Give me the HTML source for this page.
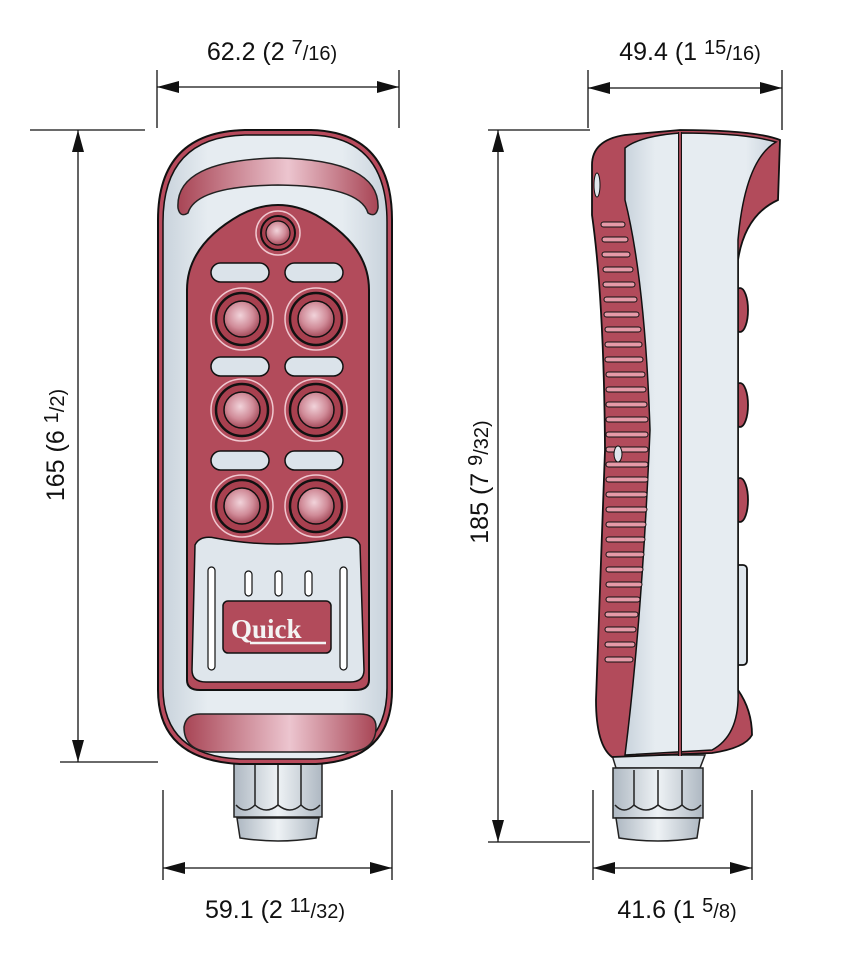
<!DOCTYPE html>
<html><head><meta charset="utf-8"><style>
html,body{margin:0;padding:0;background:#fff;}
svg{display:block;}
.d{font-family:"Liberation Sans Narrow","Liberation Sans",sans-serif;fill:#111;}
</style></head><body>
<svg width="848" height="960" viewBox="0 0 848 960" xmlns="http://www.w3.org/2000/svg">
<defs>
<marker id="b" viewBox="0 0 22 12" refX="22" refY="6" markerWidth="22" markerHeight="12" markerUnits="userSpaceOnUse" orient="auto-start-reverse"><path d="M0,0 L22,6 L0,12 Z" fill="#111"/></marker>
<linearGradient id="body" x1="0" x2="1"><stop offset="0" stop-color="#c9d3dc"/><stop offset=".2" stop-color="#e6ecf1"/><stop offset=".8" stop-color="#e6ecf1"/><stop offset="1" stop-color="#c9d3dc"/></linearGradient>
<linearGradient id="bar" x1="0" x2="1"><stop offset="0" stop-color="#a84555"/><stop offset=".55" stop-color="#ecc5cf"/><stop offset="1" stop-color="#a84555"/></linearGradient>
<radialGradient id="btn" cx=".45" cy=".4" r=".6"><stop offset="0" stop-color="#f1d3da"/><stop offset=".6" stop-color="#d08b98"/><stop offset="1" stop-color="#a44a5a"/></radialGradient>
<linearGradient id="con" x1="0" x2="1"><stop offset="0" stop-color="#aeb8c2"/><stop offset=".5" stop-color="#eef2f5"/><stop offset="1" stop-color="#aeb8c2"/></linearGradient>
<g id="bt"><circle r="31" fill="#b24b5b" stroke="#f0c8d0" stroke-width="1.5"/><circle r="26" fill="#a8404f" stroke="#111" stroke-width="2.5"/><circle r="18" fill="url(#btn)" stroke="#111" stroke-width="1.5"/></g>
</defs>

<g stroke="#111" stroke-width="1.3" fill="none">
<line x1="157" y1="70" x2="157" y2="128"/><line x1="399" y1="70" x2="399" y2="128"/>
<line x1="157" y1="87" x2="399" y2="87" marker-start="url(#b)" marker-end="url(#b)"/>
<line x1="30" y1="130" x2="145" y2="130"/><line x1="60" y1="762" x2="158" y2="762"/>
<line x1="78" y1="130" x2="78" y2="762" marker-start="url(#b)" marker-end="url(#b)"/>
<line x1="163" y1="790" x2="163" y2="880"/><line x1="392" y1="790" x2="392" y2="880"/>
<line x1="163" y1="868" x2="392" y2="868" marker-start="url(#b)" marker-end="url(#b)"/>
<line x1="588" y1="70" x2="588" y2="128"/><line x1="782" y1="70" x2="782" y2="130"/>
<line x1="588" y1="88" x2="782" y2="88" marker-start="url(#b)" marker-end="url(#b)"/>
<line x1="488" y1="130" x2="590" y2="130"/><line x1="488" y1="842" x2="590" y2="842"/>
<line x1="498" y1="130" x2="498" y2="842" marker-start="url(#b)" marker-end="url(#b)"/>
<line x1="593" y1="790" x2="593" y2="880"/><line x1="752" y1="790" x2="752" y2="880"/>
<line x1="593" y1="868" x2="752" y2="868" marker-start="url(#b)" marker-end="url(#b)"/>
</g>
<g font-size="25" class="d">
<text class="d" x="272" y="60" text-anchor="middle">62.2  (2 <tspan font-size="20" dy="-6">7</tspan><tspan font-size="20" dy="6">/16)</tspan></text>
<text class="d" x="690" y="60" text-anchor="middle">49.4  (1 <tspan font-size="20" dy="-6">15</tspan><tspan font-size="20" dy="6">/16)</tspan></text>
<text class="d" x="275" y="918" text-anchor="middle">59.1  (2 <tspan font-size="20" dy="-6">11</tspan><tspan font-size="20" dy="6">/32)</tspan></text>
<text class="d" x="677" y="918" text-anchor="middle">41.6  (1 <tspan font-size="20" dy="-6">5</tspan><tspan font-size="20" dy="6">/8)</tspan></text>
<text class="d" transform="translate(64,445) rotate(-90)" text-anchor="middle">165  (6 <tspan font-size="20" dy="-6">1</tspan><tspan font-size="20" dy="6">/2)</tspan></text>
<text class="d" transform="translate(488,482) rotate(-90)" text-anchor="middle">185  (7 <tspan font-size="20" dy="-6">9</tspan><tspan font-size="20" dy="6">/32)</tspan></text>
</g>

<g stroke="#222" stroke-width="1.5">
<rect x="234" y="762" width="88" height="55" fill="url(#con)"/>
<path d="M237 818 L319 818 L316 838 Q278 844 240 838 Z" fill="url(#con)"/>
<g fill="none"><line x1="255" y1="765" x2="255" y2="805"/><line x1="278" y1="765" x2="278" y2="805"/><line x1="301" y1="765" x2="301" y2="805"/>
<path d="M236 805 Q245 815 255 805 Q266 815 278 805 Q290 815 301 805 Q311 815 320 805"/></g>
</g>
<path d="M158 220 Q158 132 245 130 L311 130 Q392 132 392 220 L392 690 Q392 760 316 764 L240 764 Q158 760 158 690 Z" fill="#b84a5c" stroke="#111" stroke-width="2"/>
<path d="M163 222 Q163 137 245 135 L311 135 Q387 137 387 222 L387 688 Q387 756 316 759 L240 759 Q163 756 163 688 Z" fill="url(#body)" stroke="#111" stroke-width="1.5"/>
<path d="M178 208 Q175 160 278 158 Q380 160 378 208 Q376 218 368 213 Q360 186 278 185 Q196 186 188 213 Q180 218 178 208 Z" fill="url(#bar)" stroke="#222" stroke-width="1.5"/>
<path d="M187 290 Q187 245 240 215 Q278 195 316 215 Q369 245 369 290 L369 680 Q369 690 355 690 L200 690 Q187 690 187 680 Z" fill="#b24b5b" stroke="#111" stroke-width="2"/>
<circle cx="278" cy="233" r="22" fill="#b24b5b" stroke="#f0c8d0" stroke-width="1.5"/>
<circle cx="278" cy="233" r="17" fill="#a8404f" stroke="#111" stroke-width="2"/>
<circle cx="278" cy="233" r="12" fill="url(#btn)" stroke="#111" stroke-width="1.2"/>
<g fill="#dbe3ea" stroke="#111" stroke-width="1.5">
<rect x="211" y="263" width="58" height="19" rx="9.5"/><rect x="285" y="263" width="58" height="19" rx="9.5"/>
<rect x="211" y="357" width="58" height="19" rx="9.5"/><rect x="285" y="357" width="58" height="19" rx="9.5"/>
<rect x="211" y="451" width="58" height="19" rx="9.5"/><rect x="285" y="451" width="58" height="19" rx="9.5"/>
</g>
<use href="#bt" x="242" y="319"/><use href="#bt" x="316" y="319"/>
<use href="#bt" x="242" y="410"/><use href="#bt" x="316" y="410"/>
<use href="#bt" x="242" y="506"/><use href="#bt" x="316" y="506"/>
<path d="M195 545 Q200 535 215 538 Q278 550 340 538 Q356 535 360 545 L364 670 Q364 682 350 682 L206 682 Q192 682 192 670 Z" fill="#dfe6ec" stroke="#111" stroke-width="1.5"/>
<g fill="#fff" stroke="#111" stroke-width="1.2">
<rect x="208" y="567" width="7" height="103" rx="3.5"/><rect x="340" y="567" width="7" height="103" rx="3.5"/>
<rect x="245" y="571" width="7" height="25" rx="3.5"/><rect x="275" y="571" width="7" height="25" rx="3.5"/><rect x="305" y="571" width="7" height="25" rx="3.5"/>
</g>
<rect x="223" y="601" width="108" height="52" rx="5" fill="#b24b5b" stroke="#111" stroke-width="1.5"/>
<text x="231" y="638" style="font-family:'Liberation Serif',serif;font-size:27px;font-weight:bold;fill:#f4f4f4">Quick</text>
<line x1="250" y1="643" x2="326" y2="643" stroke="#f4f4f4" stroke-width="2.5"/>
<path d="M184 727 Q186 714 200 714 L360 714 Q376 714 376 727 Q376 750 350 752 L210 752 Q184 750 184 727 Z" fill="url(#bar)" stroke="#222" stroke-width="1.5"/>

<g stroke="#222" stroke-width="1.5">
<path d="M612 755 L705 755 L700 768 L616 768 Z" fill="#dfe6ec"/>
<rect x="613" y="768" width="90" height="50" fill="url(#con)"/>
<path d="M616 818 L700 818 L697 838 Q658 844 619 838 Z" fill="url(#con)"/>
<g fill="none"><line x1="634" y1="770" x2="634" y2="805"/><line x1="658" y1="770" x2="658" y2="805"/><line x1="682" y1="770" x2="682" y2="805"/>
<path d="M615 805 Q624 815 634 805 Q646 815 658 805 Q670 815 682 805 Q692 815 701 805"/></g>
</g>
<g stroke="#111" stroke-width="1.8">
<ellipse cx="740" cy="310" rx="8" ry="22" fill="#b24b5b"/>
<ellipse cx="740" cy="405" rx="8" ry="22" fill="#b24b5b"/>
<ellipse cx="740" cy="500" rx="8" ry="22" fill="#b24b5b"/>
<rect x="735" y="565" width="12" height="100" rx="4" fill="#dfe6ec"/>
<path d="M592 165 Q592 140 625 135 L680 130 Q755 130 780 140 L778 200 Q745 215 738 260 L738 690 Q752 710 752 735 Q745 748 712 753 L612 757 Q596 745 596 700 Q600 600 605 450 Q604 300 592 215 Z" fill="#b24b5b"/>
<path d="M625 148 Q640 136 680 133 Q745 133 776 142 Q745 160 738 240 L738 690 Q740 735 712 750 L625 755 Q642 620 650 430 Q645 280 625 200 Z" fill="url(#body)" stroke-width="1.5"/>
</g>
<line x1="680" y1="132" x2="680" y2="756" stroke="#111" stroke-width="4"/>
<line x1="680" y1="132" x2="680" y2="756" stroke="#d05a6c" stroke-width="1.5"/>
<g stroke="#111" stroke-width="1" fill="#e69aa8">
<rect x="601" y="222" width="24" height="5" rx="2.5"/><rect x="602" y="237" width="26" height="5" rx="2.5"/><rect x="602" y="252" width="28" height="5" rx="2.5"/>
<rect x="603" y="267" width="30" height="5" rx="2.5"/><rect x="603" y="282" width="32" height="5" rx="2.5"/><rect x="604" y="297" width="33" height="5" rx="2.5"/>
<rect x="604" y="312" width="35" height="5" rx="2.5"/><rect x="605" y="327" width="36" height="5" rx="2.5"/><rect x="605" y="342" width="37" height="5" rx="2.5"/>
<rect x="605" y="357" width="38" height="5" rx="2.5"/><rect x="606" y="372" width="39" height="5" rx="2.5"/><rect x="606" y="387" width="40" height="5" rx="2.5"/>
<rect x="606" y="402" width="41" height="5" rx="2.5"/><rect x="606" y="417" width="42" height="5" rx="2.5"/><rect x="606" y="432" width="42" height="5" rx="2.5"/>
<rect x="606" y="447" width="42" height="5" rx="2.5"/><rect x="606" y="462" width="42" height="5" rx="2.5"/><rect x="606" y="477" width="42" height="5" rx="2.5"/>
<rect x="606" y="492" width="41" height="5" rx="2.5"/><rect x="606" y="507" width="41" height="5" rx="2.5"/><rect x="606" y="522" width="40" height="5" rx="2.5"/>
<rect x="606" y="537" width="39" height="5" rx="2.5"/><rect x="606" y="552" width="38" height="5" rx="2.5"/><rect x="606" y="567" width="37" height="5" rx="2.5"/>
<rect x="606" y="582" width="36" height="5" rx="2.5"/><rect x="606" y="597" width="34" height="5" rx="2.5"/><rect x="605" y="612" width="33" height="5" rx="2.5"/>
<rect x="605" y="627" width="31" height="5" rx="2.5"/><rect x="605" y="642" width="30" height="5" rx="2.5"/><rect x="605" y="657" width="28" height="5" rx="2.5"/>
</g>
<ellipse cx="618" cy="454" rx="4" ry="8" fill="#dfe6ec" stroke="#111" stroke-width="1"/>
<ellipse cx="597" cy="185" rx="3" ry="12" fill="#dfe6ec" stroke="#111" stroke-width="1"/>
</svg>
</body></html>
